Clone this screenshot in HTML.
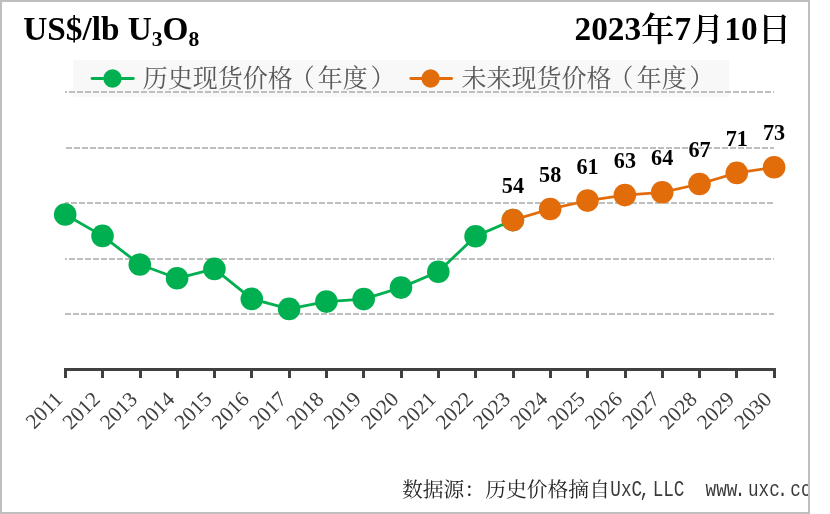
<!DOCTYPE html>
<html lang="zh"><head><meta charset="utf-8"><title>U3O8</title>
<style>
html,body{margin:0;padding:0;background:#fff;}
svg{display:block;}
text{font-family:"Liberation Serif","Noto Serif CJK SC",serif;}
.b{font-weight:600;fill:#000;}
.yr{font-size:21.3px;fill:#404040;text-anchor:end;}
.dl{font-size:22.2px;font-weight:bold;fill:#000;text-anchor:middle;}
.lg{font-size:25px;fill:#595959;}
.ft{font-size:20.8px;fill:#262626;}
.fm{font-family:"Liberation Mono",monospace;font-size:17.65px;fill:#3a3a3a;}
</style></head><body>
<svg width="830" height="514" viewBox="0 0 830 514">
<rect x="0" y="0" width="830" height="514" fill="#fff"/>
<rect x="1" y="1" width="808" height="512" fill="#fff" stroke="#bebebe" stroke-width="2"/>
<rect x="73" y="60" width="656" height="37" fill="#f8f8f8"/>
<line x1="65" y1="92" x2="774" y2="92" stroke="#bfbfbf" stroke-width="2" stroke-dasharray="6 2" stroke-dashoffset="4" shape-rendering="crispEdges"/>
<line x1="65" y1="148" x2="774" y2="148" stroke="#bfbfbf" stroke-width="2" stroke-dasharray="6 2" stroke-dashoffset="7" shape-rendering="crispEdges"/>
<line x1="65" y1="203" x2="774" y2="203" stroke="#bfbfbf" stroke-width="2" stroke-dasharray="6 2" stroke-dashoffset="2" shape-rendering="crispEdges"/>
<line x1="65" y1="259" x2="774" y2="259" stroke="#bfbfbf" stroke-width="2" stroke-dasharray="6 2" stroke-dashoffset="4" shape-rendering="crispEdges"/>
<line x1="65" y1="314" x2="774" y2="314" stroke="#bfbfbf" stroke-width="2" stroke-dasharray="6 2" stroke-dashoffset="0" shape-rendering="crispEdges"/>
<g fill="#404040" shape-rendering="crispEdges">
<rect x="65" y="368" width="711" height="3"/>
<rect x="64" y="368" width="3" height="10"/>
<rect x="101" y="368" width="3" height="10"/>
<rect x="139" y="368" width="3" height="10"/>
<rect x="176" y="368" width="3" height="10"/>
<rect x="213" y="368" width="3" height="10"/>
<rect x="250" y="368" width="3" height="10"/>
<rect x="288" y="368" width="3" height="10"/>
<rect x="325" y="368" width="3" height="10"/>
<rect x="362" y="368" width="3" height="10"/>
<rect x="400" y="368" width="3" height="10"/>
<rect x="437" y="368" width="3" height="10"/>
<rect x="474" y="368" width="3" height="10"/>
<rect x="512" y="368" width="3" height="10"/>
<rect x="549" y="368" width="3" height="10"/>
<rect x="586" y="368" width="3" height="10"/>
<rect x="624" y="368" width="3" height="10"/>
<rect x="661" y="368" width="3" height="10"/>
<rect x="698" y="368" width="3" height="10"/>
<rect x="735" y="368" width="3" height="10"/>
<rect x="773" y="368" width="3" height="10"/>
</g>
<text class="yr" transform="translate(63.9,400.5) rotate(-45)">2011</text>
<text class="yr" transform="translate(101.2,400.5) rotate(-45)">2012</text>
<text class="yr" transform="translate(138.5,400.5) rotate(-45)">2013</text>
<text class="yr" transform="translate(175.8,400.5) rotate(-45)">2014</text>
<text class="yr" transform="translate(213.1,400.5) rotate(-45)">2015</text>
<text class="yr" transform="translate(250.4,400.5) rotate(-45)">2016</text>
<text class="yr" transform="translate(287.8,400.5) rotate(-45)">2017</text>
<text class="yr" transform="translate(325.1,400.5) rotate(-45)">2018</text>
<text class="yr" transform="translate(362.4,400.5) rotate(-45)">2019</text>
<text class="yr" transform="translate(399.7,400.5) rotate(-45)">2020</text>
<text class="yr" transform="translate(437.0,400.5) rotate(-45)">2021</text>
<text class="yr" transform="translate(474.3,400.5) rotate(-45)">2022</text>
<text class="yr" transform="translate(511.6,400.5) rotate(-45)">2023</text>
<text class="yr" transform="translate(548.9,400.5) rotate(-45)">2024</text>
<text class="yr" transform="translate(586.2,400.5) rotate(-45)">2025</text>
<text class="yr" transform="translate(623.6,400.5) rotate(-45)">2026</text>
<text class="yr" transform="translate(660.9,400.5) rotate(-45)">2027</text>
<text class="yr" transform="translate(698.2,400.5) rotate(-45)">2028</text>
<text class="yr" transform="translate(735.5,400.5) rotate(-45)">2029</text>
<text class="yr" transform="translate(772.8,400.5) rotate(-45)">2030</text>
<polyline points="65.2,214.5 102.5,235.9 139.8,264.5 177.1,278.3 214.4,268.9 251.8,298.9 289.1,308.9 326.4,301.6 363.7,299.1 401.0,287.6 438.3,271.7 475.6,236.3 512.9,220.1" fill="none" stroke="#00b050" stroke-width="2.8" stroke-linejoin="round"/>
<circle cx="65.2" cy="214.5" r="11.3" fill="#00b050"/>
<circle cx="102.5" cy="235.9" r="11.3" fill="#00b050"/>
<circle cx="139.8" cy="264.5" r="11.3" fill="#00b050"/>
<circle cx="177.1" cy="278.3" r="11.3" fill="#00b050"/>
<circle cx="214.4" cy="268.9" r="11.3" fill="#00b050"/>
<circle cx="251.8" cy="298.9" r="11.3" fill="#00b050"/>
<circle cx="289.1" cy="308.9" r="11.3" fill="#00b050"/>
<circle cx="326.4" cy="301.6" r="11.3" fill="#00b050"/>
<circle cx="363.7" cy="299.1" r="11.3" fill="#00b050"/>
<circle cx="401.0" cy="287.6" r="11.3" fill="#00b050"/>
<circle cx="438.3" cy="271.7" r="11.3" fill="#00b050"/>
<circle cx="475.6" cy="236.3" r="11.3" fill="#00b050"/>
<circle cx="512.9" cy="220.1" r="11.3" fill="#00b050"/>
<polyline points="512.9,220.1 550.2,209.0 587.5,200.6 624.9,195.1 662.2,192.3 699.5,184.0 736.8,172.9 774.1,167.3" fill="none" stroke="#e36c0a" stroke-width="2.8" stroke-linejoin="round"/>
<circle cx="512.9" cy="220.1" r="11.3" fill="#e36c0a"/>
<text class="dl" x="512.9" y="193.1">54</text>
<circle cx="550.2" cy="209.0" r="11.3" fill="#e36c0a"/>
<text class="dl" x="550.2" y="182.0">58</text>
<circle cx="587.5" cy="200.6" r="11.3" fill="#e36c0a"/>
<text class="dl" x="587.5" y="173.6">61</text>
<circle cx="624.9" cy="195.1" r="11.3" fill="#e36c0a"/>
<text class="dl" x="624.9" y="168.1">63</text>
<circle cx="662.2" cy="192.3" r="11.3" fill="#e36c0a"/>
<text class="dl" x="662.2" y="165.3">64</text>
<circle cx="699.5" cy="184.0" r="11.3" fill="#e36c0a"/>
<text class="dl" x="699.5" y="157.0">67</text>
<circle cx="736.8" cy="172.9" r="11.3" fill="#e36c0a"/>
<text class="dl" x="736.8" y="145.9">71</text>
<circle cx="774.1" cy="167.3" r="11.3" fill="#e36c0a"/>
<text class="dl" x="774.1" y="140.3">73</text>
<line x1="92" y1="78.5" x2="133.3" y2="78.5" stroke="#00b050" stroke-width="2.8" stroke-linecap="round"/><circle cx="112.5" cy="78.5" r="9.2" fill="#00b050"/>
<text class="lg" x="142.8" y="87">历史现货价格<tspan dx="-3">（</tspan><tspan dx="3">年度</tspan><tspan dx="2.7">）</tspan></text>
<line x1="410.8" y1="78.5" x2="451.6" y2="78.5" stroke="#e36c0a" stroke-width="2.8" stroke-linecap="round"/><circle cx="430.6" cy="78.5" r="9.2" fill="#e36c0a"/>
<text class="lg" x="461.6" y="87">未来现货价格<tspan dx="-3">（</tspan><tspan dx="3">年度</tspan><tspan dx="2.7">）</tspan></text>
<text class="b" x="23.2" y="39.8" font-size="33.3">US$/lb U<tspan font-size="21.6" dy="6.2">3</tspan><tspan dy="-6.2">O</tspan><tspan font-size="21.6" dy="6.2">8</tspan></text>
<text class="b" x="574.5" y="40.2" font-size="33.3">2023<tspan dy="1">年</tspan><tspan dy="-1">7</tspan><tspan dy="1">月</tspan><tspan dy="-1">10</tspan><tspan dy="1">日</tspan></text>
<clipPath id="c"><rect x="0" y="0" width="808" height="514"/></clipPath>
<g clip-path="url(#c)"><text class="ft" x="402" y="496.5">数据源：历史价格摘自</text>
<text class="fm" transform="translate(610.3,496.3) scale(1,1.28)" xml:space="preserve">UxC<tspan dx="-2.5">,</tspan><tspan dx="2.5">LLC  www</tspan><tspan dx="-2.5">.</tspan><tspan dx="2.5">uxc</tspan><tspan dx="-2.5">.</tspan><tspan dx="2.5">com</tspan></text></g>
</svg></body></html>
